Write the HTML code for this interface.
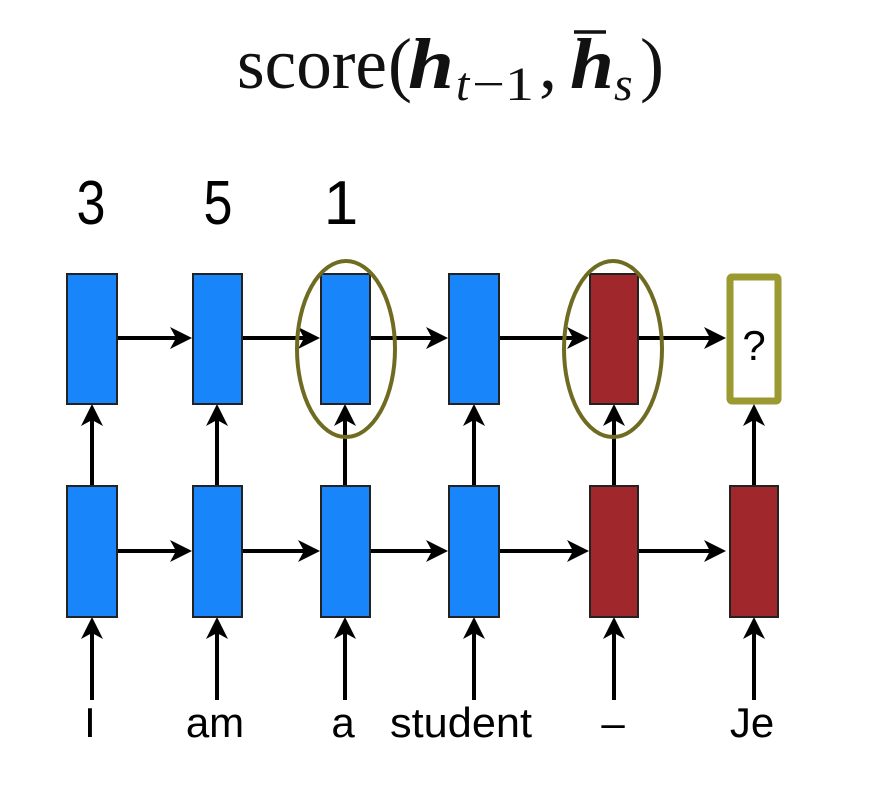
<!DOCTYPE html>
<html><head><meta charset="utf-8"><style>html,body{margin:0;padding:0;background:#fff}svg{display:block}</style></head>
<body>
<svg width="874" height="788" viewBox="0 0 874 788" xmlns="http://www.w3.org/2000/svg">
<g font-family="Liberation Serif, serif" fill="#111">
<text x="237" y="88" font-size="72" textLength="150" lengthAdjust="spacingAndGlyphs">score</text>
<text x="388" y="88" font-size="72">(</text>
<text x="408" y="88" font-size="72" font-weight="bold" font-style="italic" textLength="46" lengthAdjust="spacingAndGlyphs">h</text>
<text x="456" y="100" font-size="48" font-style="italic">t</text>
<text x="472" y="100" font-size="48" textLength="62" lengthAdjust="spacingAndGlyphs">−1</text>
<text x="539" y="88" font-size="72">,</text>
<text x="570" y="88" font-size="72" font-weight="bold" font-style="italic" textLength="44" lengthAdjust="spacingAndGlyphs">h</text>
<text x="614" y="100" font-size="48" font-style="italic">s</text>
<text x="640" y="88" font-size="72">)</text>
</g>
<line x1="574" y1="32" x2="606" y2="32" stroke="#111" stroke-width="3.5"/>
<g font-family="Liberation Sans, sans-serif" font-size="62" fill="#000" text-anchor="middle">
<text x="91" y="224" textLength="29" lengthAdjust="spacingAndGlyphs">3</text>
<text x="218" y="224" textLength="29" lengthAdjust="spacingAndGlyphs">5</text>
<text x="341" y="224">1</text>
</g>
<g stroke="#000" stroke-width="4" fill="none">
<line x1="117" y1="338" x2="180" y2="338"/>
<line x1="242" y1="338" x2="308" y2="338"/>
<line x1="370" y1="338" x2="436" y2="338"/>
<line x1="499" y1="338" x2="577" y2="338"/>
<line x1="638" y1="338" x2="714" y2="338"/>
<line x1="117" y1="551" x2="180" y2="551"/>
<line x1="242" y1="551" x2="308" y2="551"/>
<line x1="370" y1="551" x2="436" y2="551"/>
<line x1="499" y1="551" x2="577" y2="551"/>
<line x1="638" y1="551" x2="714" y2="551"/>
<line x1="92" y1="486" x2="92" y2="418"/>
<line x1="217" y1="486" x2="217" y2="418"/>
<line x1="345" y1="486" x2="345" y2="418"/>
<line x1="474" y1="486" x2="474" y2="418"/>
<line x1="614" y1="486" x2="614" y2="418"/>
<line x1="754" y1="486" x2="754" y2="418"/>
<line x1="92" y1="700" x2="92" y2="630"/>
<line x1="217" y1="700" x2="217" y2="630"/>
<line x1="345" y1="700" x2="345" y2="630"/>
<line x1="474" y1="700" x2="474" y2="630"/>
<line x1="614" y1="700" x2="614" y2="630"/>
<line x1="754" y1="700" x2="754" y2="630"/>
</g>
<g fill="#000">
<path d="M192,338 l-22,-11 l6,11 l-6,11z"/>
<path d="M320,338 l-22,-11 l6,11 l-6,11z"/>
<path d="M448,338 l-22,-11 l6,11 l-6,11z"/>
<path d="M589,338 l-22,-11 l6,11 l-6,11z"/>
<path d="M726,338 l-22,-11 l6,11 l-6,11z"/>
<path d="M192,551 l-22,-11 l6,11 l-6,11z"/>
<path d="M320,551 l-22,-11 l6,11 l-6,11z"/>
<path d="M448,551 l-22,-11 l6,11 l-6,11z"/>
<path d="M589,551 l-22,-11 l6,11 l-6,11z"/>
<path d="M726,551 l-22,-11 l6,11 l-6,11z"/>
<path d="M92,404 l-11,22 l11,-6 l11,6z"/>
<path d="M217,404 l-11,22 l11,-6 l11,6z"/>
<path d="M345,404 l-11,22 l11,-6 l11,6z"/>
<path d="M474,404 l-11,22 l11,-6 l11,6z"/>
<path d="M614,404 l-11,22 l11,-6 l11,6z"/>
<path d="M754,404 l-11,22 l11,-6 l11,6z"/>
<path d="M92,617 l-11,22 l11,-6 l11,6z"/>
<path d="M217,617 l-11,22 l11,-6 l11,6z"/>
<path d="M345,617 l-11,22 l11,-6 l11,6z"/>
<path d="M474,617 l-11,22 l11,-6 l11,6z"/>
<path d="M614,617 l-11,22 l11,-6 l11,6z"/>
<path d="M754,617 l-11,22 l11,-6 l11,6z"/>
</g>
<g stroke="#222" stroke-width="2">
<rect x="67" y="274" width="50" height="130" fill="#1985fb"/>
<rect x="193" y="274" width="49" height="130" fill="#1985fb"/>
<rect x="321" y="274" width="49" height="130" fill="#1985fb"/>
<rect x="449" y="274" width="50" height="130" fill="#1985fb"/>
<rect x="590" y="274" width="48" height="130" fill="#a0282d"/>
<rect x="67" y="486" width="50" height="131" fill="#1985fb"/>
<rect x="193" y="486" width="49" height="131" fill="#1985fb"/>
<rect x="321" y="486" width="49" height="131" fill="#1985fb"/>
<rect x="449" y="486" width="50" height="131" fill="#1985fb"/>
<rect x="590" y="486" width="48" height="131" fill="#a0282d"/>
<rect x="730" y="486" width="48" height="131" fill="#a0282d"/>
</g>
<rect x="730" y="277" width="48" height="124" fill="#fff" stroke="#9b9a30" stroke-width="7" rx="2"/>
<text x="754" y="360" font-family="Liberation Sans, sans-serif" font-size="42" text-anchor="middle" fill="#000">?</text>
<ellipse cx="346" cy="349" rx="49" ry="88" fill="none" stroke="#6f6c22" stroke-width="4"/>
<ellipse cx="613" cy="349" rx="49" ry="88" fill="none" stroke="#6f6c22" stroke-width="4"/>
<g font-family="Liberation Sans, sans-serif" font-size="42" fill="#000" text-anchor="middle">
<text x="90" y="737">I</text>
<text x="215" y="737">am</text>
<text x="343" y="737">a</text>
<text x="461" y="737" textLength="142" lengthAdjust="spacingAndGlyphs">student</text>
<text x="613" y="737">–</text>
<text x="752" y="737">Je</text>
</g>
</svg>
</body></html>
